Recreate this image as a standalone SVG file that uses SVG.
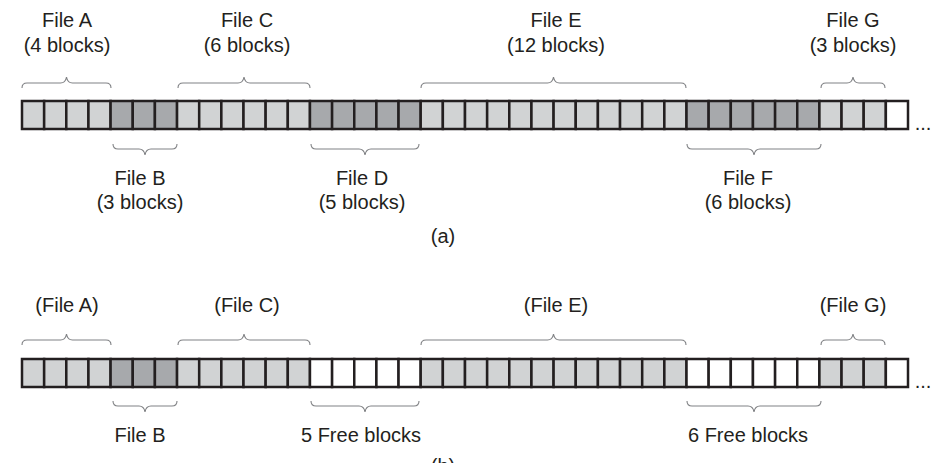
<svg xmlns="http://www.w3.org/2000/svg" width="947" height="463" viewBox="0 0 947 463">
<style>
text{font-family:"Liberation Sans",Arial,sans-serif;font-size:20px;fill:#231f20;text-anchor:middle}
.l{fill:#d1d3d4}
.d{fill:#a7a9ac}
.w{fill:#ffffff}
.blk rect{stroke:#231f20;stroke-width:2.5}
.br{fill:none;stroke:#808285;stroke-width:1.1}
</style>
<rect width="947" height="463" fill="#ffffff"/>
<g id="row-a" class="blk" transform="translate(0,101)">
<g id="fileA-a"><rect class="l" x="22" y="0" width="22.15" height="28"/><rect class="l" x="44.15" y="0" width="22.15" height="28"/><rect class="l" x="66.3" y="0" width="22.15" height="28"/><rect class="l" x="88.45" y="0" width="22.15" height="28"/></g>
<g id="fileB-a"><rect class="d" x="110.6" y="0" width="22.15" height="28"/><rect class="d" x="132.75" y="0" width="22.15" height="28"/><rect class="d" x="154.9" y="0" width="22.15" height="28"/></g>
<g id="fileC-a"><rect class="l" x="177.05" y="0" width="22.15" height="28"/><rect class="l" x="199.2" y="0" width="22.15" height="28"/><rect class="l" x="221.35" y="0" width="22.15" height="28"/><rect class="l" x="243.5" y="0" width="22.15" height="28"/><rect class="l" x="265.65" y="0" width="22.15" height="28"/><rect class="l" x="287.8" y="0" width="22.15" height="28"/></g>
<g id="fileD-a"><rect class="d" x="309.95" y="0" width="22.15" height="28"/><rect class="d" x="332.1" y="0" width="22.15" height="28"/><rect class="d" x="354.25" y="0" width="22.15" height="28"/><rect class="d" x="376.4" y="0" width="22.15" height="28"/><rect class="d" x="398.55" y="0" width="22.15" height="28"/></g>
<g id="fileE-a"><rect class="l" x="420.7" y="0" width="22.15" height="28"/><rect class="l" x="442.85" y="0" width="22.15" height="28"/><rect class="l" x="465" y="0" width="22.15" height="28"/><rect class="l" x="487.15" y="0" width="22.15" height="28"/><rect class="l" x="509.3" y="0" width="22.15" height="28"/><rect class="l" x="531.45" y="0" width="22.15" height="28"/><rect class="l" x="553.6" y="0" width="22.15" height="28"/><rect class="l" x="575.75" y="0" width="22.15" height="28"/><rect class="l" x="597.9" y="0" width="22.15" height="28"/><rect class="l" x="620.05" y="0" width="22.15" height="28"/><rect class="l" x="642.2" y="0" width="22.15" height="28"/><rect class="l" x="664.35" y="0" width="22.15" height="28"/></g>
<g id="fileF-a"><rect class="d" x="686.5" y="0" width="22.15" height="28"/><rect class="d" x="708.65" y="0" width="22.15" height="28"/><rect class="d" x="730.8" y="0" width="22.15" height="28"/><rect class="d" x="752.95" y="0" width="22.15" height="28"/><rect class="d" x="775.1" y="0" width="22.15" height="28"/><rect class="d" x="797.25" y="0" width="22.15" height="28"/></g>
<g id="fileG-a"><rect class="l" x="819.4" y="0" width="22.15" height="28"/><rect class="l" x="841.55" y="0" width="22.15" height="28"/><rect class="l" x="863.7" y="0" width="22.15" height="28"/></g>
<g id="free-a"><rect class="w" x="885.85" y="0" width="22.15" height="28"/></g>
</g>
<g id="row-b" class="blk" transform="translate(0,359)">
<g id="fileA-b"><rect class="l" x="22" y="0" width="22.15" height="28"/><rect class="l" x="44.15" y="0" width="22.15" height="28"/><rect class="l" x="66.3" y="0" width="22.15" height="28"/><rect class="l" x="88.45" y="0" width="22.15" height="28"/></g>
<g id="fileB-b"><rect class="d" x="110.6" y="0" width="22.15" height="28"/><rect class="d" x="132.75" y="0" width="22.15" height="28"/><rect class="d" x="154.9" y="0" width="22.15" height="28"/></g>
<g id="fileC-b"><rect class="l" x="177.05" y="0" width="22.15" height="28"/><rect class="l" x="199.2" y="0" width="22.15" height="28"/><rect class="l" x="221.35" y="0" width="22.15" height="28"/><rect class="l" x="243.5" y="0" width="22.15" height="28"/><rect class="l" x="265.65" y="0" width="22.15" height="28"/><rect class="l" x="287.8" y="0" width="22.15" height="28"/></g>
<g id="freeD-b"><rect class="w" x="309.95" y="0" width="22.15" height="28"/><rect class="w" x="332.1" y="0" width="22.15" height="28"/><rect class="w" x="354.25" y="0" width="22.15" height="28"/><rect class="w" x="376.4" y="0" width="22.15" height="28"/><rect class="w" x="398.55" y="0" width="22.15" height="28"/></g>
<g id="fileE-b"><rect class="l" x="420.7" y="0" width="22.15" height="28"/><rect class="l" x="442.85" y="0" width="22.15" height="28"/><rect class="l" x="465" y="0" width="22.15" height="28"/><rect class="l" x="487.15" y="0" width="22.15" height="28"/><rect class="l" x="509.3" y="0" width="22.15" height="28"/><rect class="l" x="531.45" y="0" width="22.15" height="28"/><rect class="l" x="553.6" y="0" width="22.15" height="28"/><rect class="l" x="575.75" y="0" width="22.15" height="28"/><rect class="l" x="597.9" y="0" width="22.15" height="28"/><rect class="l" x="620.05" y="0" width="22.15" height="28"/><rect class="l" x="642.2" y="0" width="22.15" height="28"/><rect class="l" x="664.35" y="0" width="22.15" height="28"/></g>
<g id="freeF-b"><rect class="w" x="686.5" y="0" width="22.15" height="28"/><rect class="w" x="708.65" y="0" width="22.15" height="28"/><rect class="w" x="730.8" y="0" width="22.15" height="28"/><rect class="w" x="752.95" y="0" width="22.15" height="28"/><rect class="w" x="775.1" y="0" width="22.15" height="28"/><rect class="w" x="797.25" y="0" width="22.15" height="28"/></g>
<g id="fileG-b"><rect class="l" x="819.4" y="0" width="22.15" height="28"/><rect class="l" x="841.55" y="0" width="22.15" height="28"/><rect class="l" x="863.7" y="0" width="22.15" height="28"/></g>
<g id="free-b"><rect class="w" x="885.85" y="0" width="22.15" height="28"/></g>
</g>
<g id="connectors">
<g id="braces-a">
<path class="br" d="M22,88 Q22,83 27,83 H60.5 Q65.5,83 66.5,77 Q67.5,83 72.5,83 H106 Q111,83 111,88"/>
<path class="br" d="M178,88 Q178,83 183,83 H238 Q243,83 244,77 Q245,83 250,83 H305 Q310,83 310,88"/>
<path class="br" d="M421,88 Q421,83 426,83 H547.5 Q552.5,83 553.5,77 Q554.5,83 559.5,83 H681 Q686,83 686,88"/>
<path class="br" d="M821,88 Q821,83 826,83 H847 Q852,83 853,77 Q854,83 859,83 H880 Q885,83 885,88"/>
<path class="br" d="M113,144 Q113,149 118,149 H139 Q144,149 145,155 Q146,149 151,149 H172 Q177,149 177,144"/>
<path class="br" d="M311,144 Q311,149 316,149 H359 Q364,149 365,155 Q366,149 371,149 H414 Q419,149 419,144"/>
<path class="br" d="M687,144 Q687,149 692,149 H748 Q753,149 754,155 Q755,149 760,149 H816 Q821,149 821,144"/>
</g>
<g id="braces-b" transform="translate(0,257)">
<path class="br" d="M22,88 Q22,83 27,83 H60.5 Q65.5,83 66.5,77 Q67.5,83 72.5,83 H106 Q111,83 111,88"/>
<path class="br" d="M178,88 Q178,83 183,83 H238 Q243,83 244,77 Q245,83 250,83 H305 Q310,83 310,88"/>
<path class="br" d="M421,88 Q421,83 426,83 H547.5 Q552.5,83 553.5,77 Q554.5,83 559.5,83 H681 Q686,83 686,88"/>
<path class="br" d="M821,88 Q821,83 826,83 H847 Q852,83 853,77 Q854,83 859,83 H880 Q885,83 885,88"/>
<path class="br" d="M113,144 Q113,149 118,149 H139 Q144,149 145,155 Q146,149 151,149 H172 Q177,149 177,144"/>
<path class="br" d="M311,144 Q311,149 316,149 H359 Q364,149 365,155 Q366,149 371,149 H414 Q419,149 419,144"/>
<path class="br" d="M687,144 Q687,149 692,149 H748 Q753,149 754,155 Q755,149 760,149 H816 Q821,149 821,144"/>
</g>
</g>
<g id="labels-a">
<text x="67" y="27">File A</text><text x="67" y="52">(4 blocks)</text>
<text x="247" y="27">File C</text><text x="247" y="52">(6 blocks)</text>
<text x="556" y="27">File E</text><text x="556" y="52">(12 blocks)</text>
<text x="853" y="27">File G</text><text x="853" y="52">(3 blocks)</text>
<text x="140" y="185">File B</text><text x="140" y="209">(3 blocks)</text>
<text x="362" y="185">File D</text><text x="362" y="209">(5 blocks)</text>
<text x="748" y="185">File F</text><text x="748" y="209">(6 blocks)</text>
<text x="443" y="243">(a)</text>
<text x="923" y="130">...</text>
</g>
<g id="labels-b">
<text x="67" y="312">(File A)</text>
<text x="247" y="312">(File C)</text>
<text x="556" y="312">(File E)</text>
<text x="853" y="312">(File G)</text>
<text x="140" y="442">File B</text>
<text x="361" y="442">5 Free blocks</text>
<text x="748" y="442">6 Free blocks</text>
<text x="923" y="388">...</text>
<text x="443" y="473">(b)</text>
</g>
</svg>
